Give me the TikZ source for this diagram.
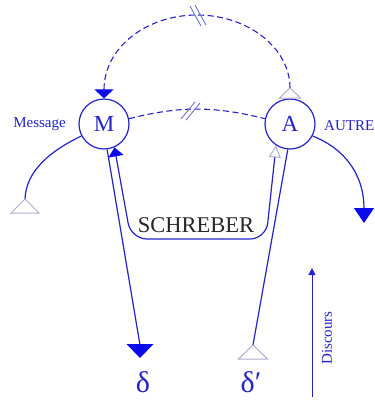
\documentclass[tikz,border=0pt]{standalone}
\usepackage{fontspec}
\setmainfont{Liberation Serif}
\usetikzlibrary{arrows.meta}
\definecolor{lb}{RGB}{35,35,200}
\definecolor{fb}{RGB}{10,10,235}
\definecolor{hg}{RGB}{175,175,210}
\definecolor{tk}{RGB}{110,110,215}
\begin{document}
\begin{tikzpicture}[x=1pt,y=-1pt,
  ln/.style={draw=lb,line width=1.2pt},
  dsh/.style={ln,line width=1.1pt,dash pattern=on 6pt off 3.5pt},
  circ/.style={circle,draw=lb,line width=1.2pt,minimum size=50pt,inner sep=0pt,text=lb,font=\fontsize{23}{25}\selectfont},
  lab/.style={text=lb,font=\fontsize{15}{17}\selectfont,inner sep=0pt},
  big/.style={text=lb,font=\fontsize{30}{32}\selectfont,inner sep=0pt},
  hol/.style={draw=hg,line width=1pt,fill=white},
  tickln/.style={draw=tk,line width=0.9pt}]
\useasboundingbox (0,0) rectangle (375,400);
\node[circ] (M) at (104,124) {M};
\node[circ] (A) at (290,124) {A};
\node[lab,anchor=east] (msg) at (66,124) {Message};
\node[lab,anchor=west] (aut) at (324,126) {AUTRE};
\node[font=\fontsize{22.5}{24}\selectfont,text=black!85,inner sep=0pt] (sch) at (196,225) {SCHREBER};
\node[big] (d1) at (143,382) {δ};
\node[big] (d2) at (251,382) {δ′};
\node[lab,rotate=90] (disc) at (327,338) {Discours};
\coordinate (atop) at (290,88);
\coordinate (mtri) at (25,199);
\coordinate (dptri) at (253,345);
\coordinate (dbase) at (140,345);
\coordinate (atip) at (364,223);
\coordinate (dbot) at (312,397);
\coordinate (dtop) at (312,268);
\coordinate (k1) at (198,16);
\coordinate (k2) at (190,111);
\draw[dsh,-{Triangle[width=19pt,length=9pt,color=fb]}] (atop) .. controls (290,48) and (248,15) .. (197,15) .. controls (146,15) and (104,48) .. (M.north);
\draw[dsh] (M.12) to[bend left=14] (A.168);
\draw[ln] (M.208) .. controls (52,150) and (26,170) .. (mtri);
\draw[ln,-{Triangle[width=20pt,length=15pt,color=fb]}] (A.-28) .. controls (348,150) and (364,178) .. (atip);
\draw[ln] (M.-83) -- (dbase);
\fill[fb] (dbase) +(-13.5,-1) -- +(13.5,-1) -- +(0,13) -- cycle;
\draw[ln] (A.-95) -- (dptri);
\draw[ln,rounded corners=16pt,{Triangle[width=15pt,length=9pt,color=fb]}-{Triangle[open,width=12pt,length=12pt,color=hg,line width=1pt]}] (M.-66) -- (131,239) -- (266,239) -- (A.-123);
\draw[draw=lb,line width=0.9pt,-{Triangle[width=7pt,length=7pt]}] (dbot) -- (dtop);
\draw[hol] (atop) -- ++(-10.5,10) -- ++(21,0) -- cycle;
\draw[hol] (mtri) -- ++(-14,14) -- ++(28,0) -- cycle;
\draw[hol] (dptri) -- ++(-14.5,14) -- ++(29,0) -- cycle;
\draw[tickln] (k1) +(-8,-10) -- +(3,10);
\draw[tickln] (k1) +(-3,-11) -- +(8,9);
\draw[tickln] (k2) +(-9,8) -- +(5,-9);
\draw[tickln] (k2) +(-4,9) -- +(10,-8);
\end{tikzpicture}
\end{document}
